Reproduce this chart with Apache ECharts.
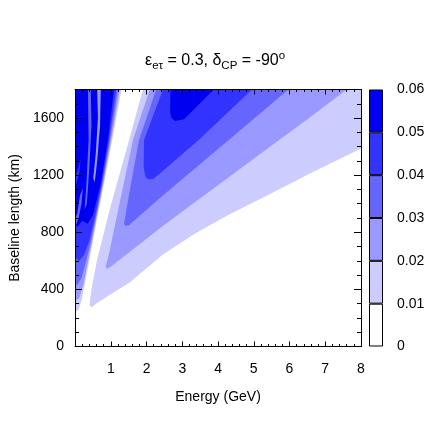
<!DOCTYPE html>
<html>
<head>
<meta charset="utf-8">
<script src="https://cdn.jsdelivr.net/npm/echarts@6/dist/echarts.min.js"></script>
<style>
  html, body { margin: 0; padding: 0; background: #fff; }
  #chart { width: 436px; height: 436px; }
</style>
</head>
<body>
<div id="chart"></div>
<script>
// colour scale: contour levels and fill colours
const levels = [0, 0.01, 0.02, 0.03, 0.04, 0.05, 0.06]
const levelColors = ['#ffffff', '#ccccff', '#9999ff', '#6666ff', '#3333ff', '#0000f0']

// contour regions, [energy GeV, baseline km]
// left (fast oscillation) region, nested from low to high level
const leftLevel1 = [[0, 245], [0, 1800], [1.30, 1800], [1.04, 1447], [0.80, 1130], [0.62, 900], [0.50, 740], [0.38, 580], [0.27, 432], [0.18, 320], [0.10, 255]]
const leftLevel2 = [[0, 320], [0, 1800], [1.25, 1800], [1.01, 1447], [0.78, 1130], [0.60, 900], [0.47, 730], [0.35, 580], [0.24, 440], [0.12, 340]]
const leftLevel3 = [[0, 440], [0, 1800], [1.20, 1800], [0.98, 1447], [0.76, 1130], [0.58, 900], [0.44, 730], [0.30, 590], [0.18, 480], [0.06, 430]]
const leftLevel4 = [[0, 620], [0, 1800], [1.15, 1800], [0.95, 1447], [0.74, 1130], [0.55, 900], [0.40, 740], [0.25, 640], [0.12, 600]]
const leftLevel5 = [[0, 850], [0, 1800], [1.09, 1800], [0.92, 1447], [0.71, 1130], [0.50, 920], [0.35, 860], [0.20, 880], [0.08, 840]]
// lighter streaks and patches inside the left region
const streakA = [[0.36, 1800], [0.44, 1800], [0.46, 1550], [0.40, 1250], [0.33, 1000], [0.27, 960], [0.32, 1150], [0.38, 1450]]
const streakB = [[0.62, 1800], [0.72, 1800], [0.70, 1550], [0.62, 1300], [0.55, 1150], [0.51, 1180], [0.58, 1350], [0.64, 1600]]
const patchC = [[0, 900], [0.06, 930], [0.14, 1060], [0.22, 1110], [0.18, 1000], [0.10, 900], [0.04, 860], [0, 860]]
const patchD = [[0, 1180], [0.08, 1240], [0.16, 1320], [0.12, 1220], [0.05, 1150], [0, 1130]]
// main lobe, nested from low to high level
const mainLevel1 = [[1.90, 1800], [1.51, 1445], [0.97, 960], [0.62, 610], [0.48, 430], [0.42, 330], [0.41, 292], [0.44, 276], [0.50, 280],
  [0.585, 300], [1.0, 366], [1.51, 444], [2.44, 640], [3.37, 794], [4.30, 922], [5.32, 1050], [6.6, 1215], [8.0, 1386], [8.0, 1800]]
const mainLevel2 = [[2.09, 1800], [1.62, 1447], [1.21, 960], [0.95, 650], [0.87, 575], [0.86, 553], [0.90, 545], [1.0, 558],
  [2.44, 841], [3.37, 1013], [4.30, 1185], [5.32, 1374], [6.5, 1592], [7.6, 1800]]
const mainLevel3 = [[2.27, 1800], [1.79, 1447], [1.50, 1050], [1.40, 900], [1.37, 860], [1.40, 845], [1.50, 847],
  [2.44, 1054], [3.37, 1250], [4.30, 1447], [5.97, 1800]]
const mainLevel4 = [[2.46, 1800], [1.93, 1447], [1.92, 1250], [1.97, 1190], [2.05, 1170], [2.2, 1175], [3.46, 1447], [4.95, 1800]]
const mainLevel5 = [[2.67, 1800], [2.66, 1640], [2.70, 1598], [2.80, 1580], [3.05, 1592], [3.88, 1800]]

// drawing order and level index of each region
const regions = [
  { pts: leftLevel1, level: 1 },
  { pts: leftLevel2, level: 2 },
  { pts: leftLevel3, level: 3 },
  { pts: leftLevel4, level: 4 },
  { pts: leftLevel5, level: 5 },
  { pts: streakA, level: 3 },
  { pts: streakB, level: 2 },
  { pts: patchC, level: 3 },
  { pts: patchD, level: 4 },
  { pts: mainLevel1, level: 1 },
  { pts: mainLevel2, level: 2 },
  { pts: mainLevel3, level: 3 },
  { pts: mainLevel4, level: 4 },
  { pts: mainLevel5, level: 5 }
]

const font = 'Liberation Sans'
const chart = echarts.init(document.getElementById('chart'))

const tickAxis = (type, pos, interval, len, extra) => Object.assign({
  type: 'value',
  gridIndex: 0,
  position: pos,
  min: 0,
  max: type === 'x' ? 8 : 1800,
  interval: interval,
  z: 10,
  axisLine: { show: false, onZero: false },
  axisTick: { show: true, inside: true, length: len, lineStyle: { color: '#000', width: 1 } },
  axisLabel: { show: false },
  splitLine: { show: false }
}, extra || {})

const option = {
  animation: false,
  textStyle: { fontFamily: font },
  title: {
    text: '{n|ε}{s|eτ}{n| = 0.3, δ}{s|CP}{n| = -90}{u|o}',
    left: 145,
    top: 50,
    padding: 0,
    textStyle: {
      fontWeight: 'normal',
      rich: {
        n: { fontFamily: font, fontSize: 16, fontWeight: 'normal', color: '#000', lineHeight: 22, verticalAlign: 'middle' },
        s: { fontFamily: font, fontSize: 11.5, fontWeight: 'normal', color: '#000', lineHeight: 12, verticalAlign: 'bottom' },
        u: { fontFamily: font, fontSize: 11.5, fontWeight: 'normal', color: '#000', lineHeight: 12, verticalAlign: 'top' }
      }
    }
  },
  grid: [
    { left: 74, top: 89.5, width: 287, height: 257 },
    { left: 369, top: 89.5, width: 14, height: 257 }
  ],
  xAxis: [
    tickAxis('x', 'bottom', 1, 5, {
      axisLine: { show: true, onZero: false, lineStyle: { color: '#000', width: 1 } },
      axisLabel: { show: true, color: '#000', fontSize: 14, margin: 16, showMinLabel: false, fontFamily: font },
      name: 'Energy (GeV)',
      nameLocation: 'middle',
      nameGap: 44,
      nameTextStyle: { color: '#000', fontSize: 14, fontFamily: font }
    }),
    tickAxis('x', 'bottom', 0.2, 2.5),
    tickAxis('x', 'top', 1, 5, {
      axisLine: { show: true, onZero: false, lineStyle: { color: '#000', width: 1 } }
    }),
    tickAxis('x', 'top', 0.2, 2.5),
    { type: 'category', gridIndex: 1, data: [''], show: false }
  ],
  yAxis: [
    tickAxis('y', 'left', 400, 7, {
      axisLine: { show: true, onZero: false, lineStyle: { color: '#000', width: 1 } },
      axisLabel: { show: true, color: '#000', fontSize: 14, margin: 11, showMaxLabel: false, fontFamily: font, formatter: v => String(v) },
      name: 'Baseline length (km)',
      nameLocation: 'middle',
      nameGap: 52,
      nameTextStyle: { color: '#000', fontSize: 14, fontFamily: font }
    }),
    tickAxis('y', 'left', 100, 4),
    tickAxis('y', 'right', 400, 7, {
      axisLine: { show: true, onZero: false, lineStyle: { color: '#000', width: 1 } }
    }),
    tickAxis('y', 'right', 100, 4),
    {
      type: 'value',
      gridIndex: 1,
      position: 'right',
      min: 0,
      max: 0.06,
      interval: 0.01,
      axisLine: { show: false },
      axisTick: { show: false },
      splitLine: { show: false },
      axisLabel: { color: '#000', fontSize: 14, margin: 14, fontFamily: font, padding: [5, 0, 0, 0] }
    }
  ],
  series: [
    {
      type: 'custom',
      xAxisIndex: 0,
      yAxisIndex: 0,
      clip: true,
      silent: true,
      z: 2,
      data: regions.map(r => [r.pts[0][0], r.pts[0][1], r.level]),
      renderItem: (params, api) => {
        const r = regions[params.dataIndex]
        return {
          type: 'polygon',
          shape: { points: r.pts.map(p => api.coord(p)) },
          style: { fill: levelColors[r.level], stroke: null }
        }
      }
    },
    // colour bar: one stacked box per contour band
    ...levelColors.map((c, i) => ({
      type: 'bar',
      xAxisIndex: 4,
      yAxisIndex: 4,
      stack: 'colorbar',
      silent: true,
      barWidth: '100%',
      data: [+(levels[i + 1] - levels[i]).toFixed(2)],
      itemStyle: { color: c, borderColor: '#000', borderWidth: 1 }
    }))
  ]
}

chart.setOption(option)
</script>
</body>
</html>
